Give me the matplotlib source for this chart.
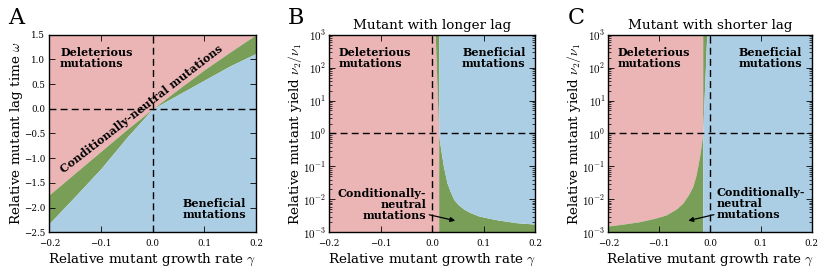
import numpy as np
import matplotlib
matplotlib.use("Agg")
import matplotlib.pyplot as plt

plt.rcParams['font.family'] = ['DejaVu Serif']
plt.rcParams['mathtext.fontset'] = 'cm'

# ---------------- data ----------------
# Panel A: boundaries of the conditionally-neutral band (omega vs gamma)
A_gamma = [-0.2, -0.15, -0.1, -0.05, 0.0, 0.05, 0.1, 0.15, 0.2]
A_upper = [-1.74, -1.30, -0.86, -0.42, 0.0, 0.40, 0.79, 1.15, 1.5]
A_lower = [-2.32, -1.77, -1.21, -0.58, 0.0, 0.29, 0.58, 0.87, 1.12]

# Panel B: mutant with longer lag (gamma boundaries vs yield ratio nu2/nu1)
B_nu = [1e-3, 0.00178, 0.00195, 0.00234, 0.00269, 0.00316, 0.00398, 0.00501, 0.00708,
        0.01, 0.0178, 0.0316, 0.0562, 0.1, 0.178, 0.316, 0.562, 1.0, 10.0, 100.0, 1000.0]
B_left = [0.0128] * 18 + [0.0105, 0.0083, 0.0061]
B_right = [0.2, 0.2, 0.165, 0.13, 0.11, 0.09, 0.074, 0.062, 0.05,
           0.042, 0.035, 0.029, 0.0255, 0.022, 0.0195, 0.017, 0.0145, 0.0128, 0.0128, 0.0128, 0.0128]

# Panel C: mutant with shorter lag
C_nu = [1e-3, 0.00155, 0.00178, 0.00209, 0.00263, 0.00335, 0.00501, 0.00759, 0.0141,
        0.0242, 0.0501, 0.0982, 0.2, 0.397, 0.631, 1.0, 10.0, 100.0, 1000.0]
C_left = [-0.2, -0.2, -0.17, -0.139, -0.11, -0.0865, -0.067, -0.0536, -0.042,
          -0.034, -0.028, -0.0241, -0.0205, -0.0176, -0.0158, -0.0143, -0.0143, -0.0143, -0.0143]
C_right = [-0.0143] * 16 + [-0.0117, -0.009, -0.0064]

x_ticks = [-0.2, -0.1, 0.0, 0.1, 0.2]
A_yticks = [-2.5, -2.0, -1.5, -1.0, -0.5, 0.0, 0.5, 1.0, 1.5]
BC_yticks = [1e-3, 1e-2, 1e-1, 1e0, 1e1, 1e2, 1e3]

PINK = '#EBB5B6'
BLUE = '#ABCEE4'
GREEN = '#789E58'

fig = plt.figure(figsize=(8.3, 2.78), dpi=100)
axA = fig.add_axes([0.0594, 0.1644, 0.249, 0.7108])
axB = fig.add_axes([0.3967, 0.1644, 0.2478, 0.7108])
axC = fig.add_axes([0.7329, 0.1644, 0.2450, 0.7108])

tick_fs = 6.3
label_fs = 9.7
txt_fs = 8
DASH = (5, 3)

def style(ax):
    ax.tick_params(direction='in', which='both', top=True, right=True,
                   labelsize=tick_fs, pad=3)
    ax.tick_params(axis='x', which='major', pad=4.5)
    ax.tick_params(which='major', length=4, width=0.6)
    ax.tick_params(which='minor', length=2, width=0.5)
    for s in ax.spines.values():
        s.set_linewidth(1.0)
    ax.set_xlim(x_ticks[0], x_ticks[-1])
    ax.set_xticks(x_ticks)
    ax.set_xticklabels(['\u22120.2', '\u22120.1', '0.0', '0.1', '0.2'])
    ax.set_xlabel(r'Relative mutant growth rate $\gamma$', fontsize=label_fs, labelpad=3)

# ---- Panel A ----
ax = axA
ymin, ymax = A_yticks[0], A_yticks[-1]
ax.fill_between(A_gamma, A_upper, ymax, color=PINK, lw=0)
ax.fill_between(A_gamma, A_lower, A_upper, color=GREEN, lw=0)
ax.fill_between(A_gamma, ymin, A_lower, color=BLUE, lw=0)
ax.axhline(0, color='k', ls='--', lw=1, dashes=DASH)
ax.axvline(0, color='k', ls='--', lw=1, dashes=DASH)
ax.set_ylim(ymin, ymax)
style(ax)
ax.set_yticks(A_yticks)
ax.set_yticklabels([('\u2212' if v < 0 else '') + '%.1f' % abs(v) for v in A_yticks])
ax.set_ylabel(r'Relative mutant lag time $\omega$', fontsize=label_fs)
ax.yaxis.set_label_coords(-0.117, 0.5)
ax.text(0.052, 0.94, 'Deleterious\nmutations', transform=ax.transAxes, ha='left', va='top',
        fontsize=txt_fs, fontweight='bold', linespacing=1.0)
ax.text(0.952, 0.062, 'Beneficial\nmutations', transform=ax.transAxes, ha='right', va='bottom',
        fontsize=txt_fs, fontweight='bold', multialignment='center', linespacing=1.0)
ax.text(0.448, 0.622, 'Conditionally-neutral mutations', transform=ax.transAxes, ha='center',
        va='center', rotation=37.7, rotation_mode='anchor', fontsize=txt_fs, fontweight='bold')

# ---- Panel B and C ----
def yield_panel(ax, nu, left, right, title):
    ax.set_yscale('log')
    ax.fill_betweenx(nu, x_ticks[0], left, color=PINK, lw=0)
    ax.fill_betweenx(nu, left, right, color=GREEN, lw=0)
    ax.fill_betweenx(nu, right, x_ticks[-1], color=BLUE, lw=0)
    ax.axhline(1, color='k', ls='--', lw=1, dashes=DASH)
    ax.axvline(0, color='k', ls='--', lw=1, dashes=DASH)
    ax.set_ylim(BC_yticks[0], BC_yticks[-1])
    style(ax)
    ax.set_yticks(BC_yticks)
    ax.set_yticklabels([r'$10^{%d}$' % int(round(np.log10(v))) for v in BC_yticks], fontsize=8)
    ax.tick_params(axis='y', which='major', pad=2)
    ax.set_ylabel(r'Relative mutant yield $\nu_2/\nu_1$', fontsize=label_fs)
    ax.yaxis.set_label_coords(-0.125, 0.5)
    ax.set_title(title, fontsize=label_fs, pad=4)
    ax.text(0.047, 0.94, 'Deleterious\nmutations', transform=ax.transAxes, ha='left', va='top',
            fontsize=txt_fs, fontweight='bold', linespacing=1.0)
    ax.text(0.955, 0.94, 'Beneficial\nmutations', transform=ax.transAxes, ha='right', va='top',
            fontsize=txt_fs, fontweight='bold', multialignment='center', linespacing=1.0)

yield_panel(axB, B_nu, B_left, B_right, 'Mutant with longer lag')
axB.annotate('Conditionally-\nneutral\nmutations', xy=(0.045, 0.00225), xytext=(-0.011, 0.0072),
             ha='right', va='center', multialignment='right', fontsize=txt_fs, fontweight='bold',
             linespacing=1.0,
             arrowprops=dict(arrowstyle='-|>', color='k', lw=0.9, mutation_scale=7, shrinkA=0, shrinkB=0))

yield_panel(axC, C_nu, C_left, C_right, 'Mutant with shorter lag')
axC.annotate('Conditionally-\nneutral\nmutations', xy=(-0.0426, 0.00225), xytext=(0.0133, 0.0074),
             ha='left', va='center', multialignment='left', fontsize=txt_fs, fontweight='bold',
             linespacing=1.0,
             arrowprops=dict(arrowstyle='-|>', color='k', lw=0.9, mutation_scale=7, shrinkA=0, shrinkB=0))

for lab, x in [('A', 0.0096), ('B', 0.347), ('C', 0.684)]:
    fig.text(x, 0.912, lab, fontsize=16, ha='left', va='baseline')

fig.savefig('out.png', dpi=100)
